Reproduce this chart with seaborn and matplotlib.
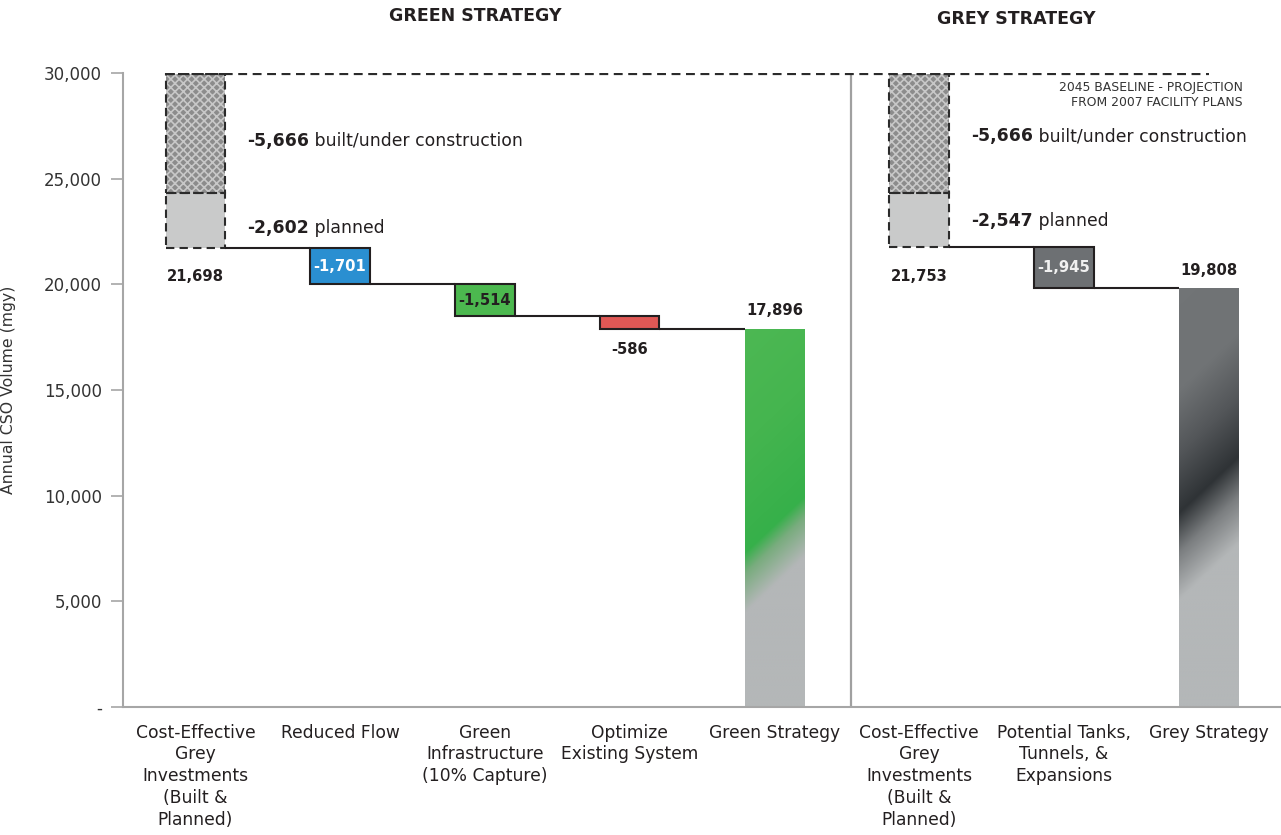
import numpy as np
import pandas as pd
import matplotlib
matplotlib.use("Agg")
import matplotlib.pyplot as plt
import seaborn as sns
from matplotlib.colors import to_rgb

# ---- data -------------------------------------------------------------
step_ids = ["g_invest", "g_flow", "g_gi", "g_opt", "g_total",
            "r_invest", "r_tanks", "r_total"]
tick_labels = [
    "Cost-Effective\nGrey\nInvestments\n(Built &\nPlanned)",
    "Reduced Flow",
    "Green\nInfrastructure\n(10% Capture)",
    "Optimize\nExisting System",
    "Green Strategy",
    "Cost-Effective\nGrey\nInvestments\n(Built &\nPlanned)",
    "Potential Tanks,\nTunnels, &\nExpansions",
    "Grey Strategy",
]

baseline_2045 = 29966
built_cut = [-5666, -5666]          # green, grey
planned_cut = [-2602, -2547]        # green, grey
green_reductions = [-1701, -1514, -586]
grey_reductions = [-1945]
green_total = 17896
grey_total = 19808

reduction_ids = ["g_flow", "g_gi", "g_opt", "r_tanks"]
reduction_colors = ["#2a8fd1", "#4cb84f", "#e05855", "#6d7073"]
reduction_text_colors = ["white", "#231f20", "#231f20", "#f0f0f0"]

# ---- derived levels ---------------------------------------------------
after_built = [baseline_2045 + b for b in built_cut]
after_planned = [a + p for a, p in zip(after_built, planned_cut)]

green_levels = np.concatenate([[after_planned[0]],
                               after_planned[0] + np.cumsum(green_reductions)])
grey_levels = np.concatenate([[after_planned[1]],
                              after_planned[1] + np.cumsum(grey_reductions)])
red_tops = list(green_levels[:-1]) + list(grey_levels[:-1])
red_lows = list(green_levels[1:]) + list(grey_levels[1:])
red_values = green_reductions + grey_reductions

df_built = pd.DataFrame({"step": ["g_invest", "r_invest"],
                         "low": after_built, "span": [-b for b in built_cut]})
df_planned = pd.DataFrame({"step": ["g_invest", "r_invest"],
                           "low": after_planned, "span": [-p for p in planned_cut]})
df_red = pd.DataFrame({"step": reduction_ids, "low": red_lows,
                       "span": [t - l for t, l in zip(red_tops, red_lows)]})
df_total = pd.DataFrame({"step": ["g_total", "r_total"],
                         "value": [green_total, grey_total]})

# ---- style ------------------------------------------------------------
sns.set_style("white")
plt.rcParams["font.family"] = ["DejaVu Sans"]
plt.rcParams["hatch.linewidth"] = 1.2
DARK = "#231f20"
AXIS_GREY = "#a6a6a6"
BAR_W = 0.41

fig = plt.figure(figsize=(12.81, 8.35), dpi=100)
ax = fig.add_axes([123 / 1281, 1 - 707 / 835, 1158 / 1281, 634 / 835])


def bars(df, y, low=None, color="#888888", **kw):
    n0 = len(ax.patches)
    extra = {} if low is None else {"bottom": df[low].values}
    sns.barplot(data=df, x="step", y=y, order=step_ids, width=BAR_W,
                errorbar=None, saturation=1, color=color, ax=ax, **extra, **kw)
    return ax.patches[n0:]


# hatched "built / under construction" segments
for p in bars(df_built, "span", "low"):
    p.set_facecolor("#8c8c8c")
    p.set_edgecolor("#c8c8c8")
    p.set_hatch("xxxx")
    p.set_linewidth(0)

# plain "planned" segments
for p in bars(df_planned, "span", "low"):
    p.set_facecolor("#c9caca")
    p.set_linewidth(0)

# dashed outlines around both segments
for df in (df_built, df_planned):
    bars(df, "span", "low", fill=False, color="#2b2b2b",
         linewidth=1.5, linestyle=(0, (4, 2.5)))

# floating reduction steps
red_patches = bars(df_red, "span", "low", edgecolor=DARK, linewidth=1.5)
for p, c in zip(red_patches, reduction_colors):
    p.set_facecolor(c)
    p.set_zorder(3)

# strategy totals with diagonal gradient fill
total_patches = bars(df_total, "value")


def gradient(patch, stops, shift=2650):
    x0, w, h = patch.get_x(), patch.get_width(), patch.get_height()
    ys = np.linspace(0, h, 500)[:, None]
    us = np.linspace(0, 1, 80)[None, :]
    s = ys - shift * us
    pos = [v for v, _ in stops]
    cols = np.array([to_rgb(c) for _, c in stops])
    img = np.stack([np.interp(s, pos, cols[:, k]) for k in range(3)], axis=-1)
    im = ax.imshow(img, extent=[x0, x0 + w, 0, h], origin="lower",
                   aspect="auto", interpolation="bilinear", zorder=2)
    im.set_clip_path(patch)
    patch.set_linewidth(0)


green_stops = [(-4000, "#b4b7b8"), (4450, "#b4b7b8"), (6300, "#79ac7e"),
               (7290, "#36b04a"), (12500, "#45b54f"), (20000, "#50b955")]
grey_stops = [(-4000, "#b4b7b8"), (5060, "#b4b7b8"), (7300, "#7b7e80"),
              (9180, "#2f3336"), (12000, "#535659"), (15000, "#707375"),
              (23000, "#727577")]
gradient(total_patches[0], green_stops)
gradient(total_patches[1], grey_stops)

# ---- connectors & reference lines --------------------------------------
first_bar = ax.patches[0]
half = first_bar.get_width() / 2

green_pos = [0, 1, 2, 3, 4]
grey_pos = [5, 6, 7]
for seq, levels in ((green_pos, green_levels), (grey_pos, grey_levels)):
    for a, b, lev in zip(seq[:-1], seq[1:], levels):
        ax.plot([a + half, b - half], [lev, lev], color=DARK, lw=1.5,
                zorder=4, solid_capstyle="butt")

ax.plot([first_bar.get_x(), 7], [baseline_2045, baseline_2045],
        color="#2b2b2b", lw=1.6, ls=(0, (4, 2.5)), zorder=4)
ax.axvline(4.53, color="#a0a0a0", lw=1.6, zorder=1)

# ---- value labels -----------------------------------------------------
def split_label(x, y, num, rest):
    t = ax.text(x, y, num, fontsize=12.4, fontweight="bold", color=DARK,
                ha="left", va="center")
    ax.annotate(" " + rest, xy=(1, 0.5), xycoords=t, fontsize=12.4,
                color=DARK, ha="left", va="center")


for pos, i, y_b, y_p in ((0, 0, 26800, 22660), (5, 1, 27000, 23020)):
    split_label(pos + 0.36, y_b, f"{built_cut[i]:,}", "built/under construction")
    split_label(pos + 0.36, y_p, f"{planned_cut[i]:,}", "planned")
    ax.text(pos, 20390, f"{after_planned[i]:,}", fontsize=10.6, fontweight="bold",
            color=DARK, ha="center", va="center")

for p, v, tc in zip(red_patches, red_values, reduction_text_colors):
    cx = p.get_x() + p.get_width() / 2
    if p.get_height() > 1000:
        ax.text(cx, p.get_y() + p.get_height() / 2, f"{v:,}", fontsize=10.6,
                fontweight="bold", color=tc, ha="center", va="center", zorder=5)
    else:
        ax.text(cx, p.get_y() - 1000, f"{v:,}", fontsize=10.6,
                fontweight="bold", color=DARK, ha="center", va="center")

for p, v in zip(total_patches, [green_total, grey_total]):
    ax.text(p.get_x() + p.get_width() / 2, v + 850, f"{v:,}", fontsize=10.6,
            fontweight="bold", color=DARK, ha="center", va="center")

ax.text(7.234, 28950, "2045 BASELINE - PROJECTION\nFROM 2007 FACILITY PLANS",
        fontsize=8.9, color="#333333", ha="right", va="center", linespacing=1.2)

fig.text(475 / 1281, 1 - 16 / 835, "GREEN STRATEGY", fontsize=12.5,
         fontweight="bold", color=DARK, ha="center", va="center")
fig.text(1016 / 1281, 1 - 19.5 / 835, "GREY STRATEGY", fontsize=12.5,
         fontweight="bold", color=DARK, ha="center", va="center")

# ---- axes -------------------------------------------------------------
ax.set_xlim(-0.5, 7.5)
ax.set_ylim(0, 30000)
ax.set_yticks(np.arange(0, 30001, 5000))
ax.set_yticklabels(["-"] + [f"{v:,}" for v in range(5000, 30001, 5000)])
ax.set_xticks(range(len(step_ids)))
ax.set_xticklabels(tick_labels, fontsize=12.3, color=DARK, linespacing=1.27,
                   va="top")
ax.tick_params(axis="x", length=0, pad=12)
ax.tick_params(axis="y", direction="out", length=9, width=1.2,
               color=AXIS_GREY, labelcolor="#333333", labelsize=12, pad=6,
               left=True)
ax.set_xlabel("")
ax.set_ylabel("Annual CSO Volume (mgy)", fontsize=11.3, color="#333333")
ax.yaxis.set_label_coords(-0.0924, 0.5)
for side in ("top", "right"):
    ax.spines[side].set_visible(False)
for side in ("left", "bottom"):
    ax.spines[side].set_color(AXIS_GREY)
    ax.spines[side].set_linewidth(1.5)

fig.savefig("out.png", dpi=100)
